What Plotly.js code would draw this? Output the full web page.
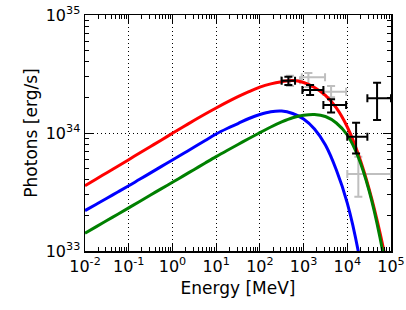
<!DOCTYPE html>
<html>
<head>
<meta charset="utf-8">
<script src="https://cdn.plot.ly/plotly-3.0.1.min.js"></script>
<style>html,body{margin:0;padding:0;background:#fff;}#chart{width:406px;height:310px;}</style>
</head>
<body>
<div id="chart"></div>
<script>
var energy = [0.01, 0.017783, 0.031623, 0.056234, 0.1, 0.17783, 0.31623, 0.56234, 1, 1.7783, 3.1623, 5.6234,
              10, 17.783, 31.623, 56.234, 100, 177.83, 316.23, 562.34, 1000, 1778.3, 3162.3, 5623.4,
              10000, 17783, 31623, 56234, 100000];
// Model curves: photon luminosity (erg/s)
var redL   = [3.57e33, 4.06e33, 4.61e33, 5.23e33, 5.94e33, 6.77e33, 7.69e33, 8.73e33, 9.94e33, 1.129e34, 1.282e34, 1.449e34,
              1.629e34, 1.824e34, 2.03e34, 2.24e34, 2.45e34, 2.61e34, 2.72e34, 2.79e34, 2.68e34, 2.43e34, 2.08e34, 1.63e34,
              1.124e34, 6.64e33, 3.35e33, 1.42e33, 4.96e32];
var blueL  = [2.2e33, 2.48e33, 2.8e33, 3.16e33, 3.57e33, 4.05e33, 4.59e33, 5.21e33, 5.9e33, 6.7e33, 7.6e33, 8.64e33,
              9.81e33, 1.092e34, 1.203e34, 1.327e34, 1.435e34, 1.516e34, 1.537e34, 1.463e34, 1.314e34, 1.081e34, 7.91e33, 4.86e33,
              2.55e33, 1.0e33, 2.6e32];
var greenL = [1.413e33, 1.6e33, 1.813e33, 2.05e33, 2.32e33, 2.63e33, 2.98e33, 3.38e33, 3.82e33, 4.33e33, 4.91e33, 5.57e33,
              6.31e33, 7.11e33, 7.99e33, 8.98e33, 1.006e34, 1.124e34, 1.242e34, 1.348e34, 1.413e34, 1.435e34, 1.38e34, 1.216e34,
              9.62e33, 6.26e33, 3.23e33, 1.29e33, 3.85e32];

// Data points (black)
var blkE    = [449, 1410, 4260, 15900, 48000];
var blkElo  = [316, 940, 2840, 10000, 28800];
var blkEhi  = [638, 2840, 9400, 28800, 100000];
var blkL    = [2.77e34, 2.31e34, 1.73e34, 9.3e33, 1.97e34];
var blkLlo  = [2.55e34, 2.1e34, 1.49e34, 6.7e33, 1.29e34];
var blkLhi  = [3.0e34, 2.55e34, 1.93e34, 1.22e34, 2.67e34];

// Data points (grey)
var gryE    = [490, 1290, 4260, 17900];
var gryElo  = [305, 910, 2840, 10000];
var gryEhi  = [830, 3100, 9400, 100000];
var gryL    = [2.8e34, 2.97e34, 2.24e34, 4.5e33];
var gryLlo  = [2.5e34, 2.45e34, 2.01e34, 2.88e33];
var gryLhi  = [3.05e34, 3.22e34, 2.5e34, 6.3e33];

var xTickVals = [1e-2, 1e-1, 1e0, 1e1, 1e2, 1e3, 1e4, 1e5];
var xTickText = ['10<sup>-2</sup>','10<sup>-1</sup>','10<sup>0</sup>','10<sup>1</sup>','10<sup>2</sup>','10<sup>3</sup>','10<sup>4</sup>','10<sup>5</sup>'];
var yTickVals = [1e33, 1e34, 1e35];
var yTickText = ['10<sup>33</sup>','10<sup>34</sup>','10<sup>35</sup>'];

function diff(a, b) { return a.map(function(v, i){ return Math.abs(v - b[i]); }); }

function errTrace(E, Elo, Ehi, L, Llo, Lhi, color) {
  return {
    x: E, y: L, type: 'scatter', mode: 'markers',
    marker: {size: 1, color: 'rgba(0,0,0,0)'},
    error_x: {type: 'data', symmetric: false, array: diff(Ehi, E), arrayminus: diff(E, Elo), color: color, thickness: 2, width: 4},
    error_y: {type: 'data', symmetric: false, array: diff(Lhi, L), arrayminus: diff(L, Llo), color: color, thickness: 2, width: 4},
    showlegend: false, hoverinfo: 'skip', cliponaxis: true
  };
}

function curve(L, color) {
  return {x: energy.slice(0, L.length), y: L, type: 'scatter', mode: 'lines',
          line: {color: color, width: 3, shape: 'spline', smoothing: 1}, showlegend: false};
}

var traces = [
  errTrace(gryE, gryElo, gryEhi, gryL, gryLlo, gryLhi, '#bfbfbf'),
  curve(redL, '#ff0000'),
  curve(blueL, '#0000ff'),
  curve(greenL, '#008000'),
  errTrace(blkE, blkElo, blkEhi, blkL, blkLlo, blkLhi, '#000000')
];

var font = {family: 'DejaVu Sans', size: 16, color: '#000'};

function axis(extra) {
  var a = {
    type: 'log',
    tickmode: 'array',
    ticks: 'inside', ticklen: 8, tickwidth: 1, tickcolor: '#000',
    showline: true, linecolor: '#000', linewidth: 1.5, mirror: 'ticks',
    showgrid: true, gridcolor: '#000', griddash: '1px,3px', gridwidth: 1,
    zeroline: false,
    minor: {ticks: 'inside', ticklen: 4, tickwidth: 1, tickcolor: '#000', dtick: 'D1', showgrid: false},
    tickfont: font
  };
  for (var k in extra) a[k] = extra[k];
  return a;
}

var layout = {
  width: 406, height: 310,
  margin: {l: 85, r: 15, t: 15, b: 59},
  paper_bgcolor: '#fff', plot_bgcolor: '#fff',
  font: font,
  showlegend: false,
  xaxis: axis({range: [-2, 5], tickvals: xTickVals, ticktext: xTickText,
    title: {text: 'Energy [MeV]', font: {family: 'DejaVu Sans', size: 17, color: '#000'}, standoff: 7}}),
  yaxis: axis({range: [33, 35], tickvals: yTickVals, ticktext: yTickText,
    title: {text: 'Photons [erg/s]', font: {family: 'DejaVu Sans', size: 17, color: '#000'}, standoff: 3}})
};

Plotly.newPlot('chart', traces, layout, {staticPlot: true, displayModeBar: false});
</script>
</body>
</html>
